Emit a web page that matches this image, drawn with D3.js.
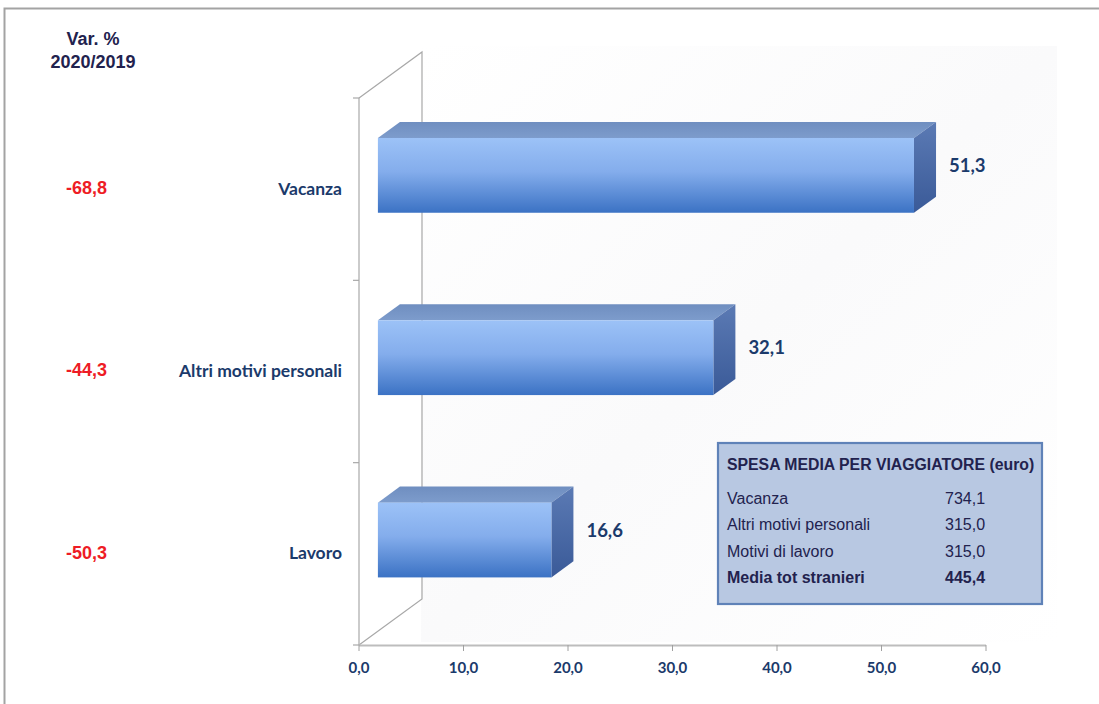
<!DOCTYPE html>
<html><head><meta charset="utf-8">
<script src="https://cdn.jsdelivr.net/npm/d3@7"></script>
<style>body{margin:0;background:#fff}svg{display:block}</style>
</head><body>
<script>
const categories = ["Vacanza", "Altri motivi personali", "Lavoro"];
const values = [51.3, 32.1, 16.6];
const varPct = [-68.8, -44.3, -50.3];
const xTicks = [0, 10, 20, 30, 40, 50, 60];
const tableTitle = "SPESA MEDIA PER VIAGGIATORE (euro)";
const tableLabels = ["Vacanza", "Altri motivi personali", "Motivi di lavoro", "Media tot stranieri"];
const tableValues = [734.1, 315.0, 315.0, 445.4];

const W = 1099, H = 704;
const loc = d3.formatLocale({decimal: ",", thousands: ".", grouping: [3], currency: ["", "€"], minus: "-"});
const f1 = loc.format(".1f");

const svg = d3.select("body").append("svg").attr("width", W).attr("height", H);
const defs = svg.append("defs");

function lg(id, stops, x2, y2) {
  const g = defs.append("linearGradient").attr("id", id)
    .attr("x1", 0).attr("y1", 0).attr("x2", x2).attr("y2", y2);
  stops.forEach(s => g.append("stop").attr("offset", s[0]).attr("stop-color", s[1]));
}
lg("gFront", [["0%", "#9cc2f7"], ["45%", "#84adec"], ["100%", "#3b72c4"]], 0, 1);
lg("gTop", [["0%", "#6f8ec0"], ["100%", "#7d9ccc"]], 0, 1);
lg("gSide", [["0%", "#5b7ab4"], ["100%", "#3a5a98"]], 0, 1);
lg("gWall", [["0%", "#ffffff"], ["50%", "#fafafb"], ["100%", "#ffffff"]], 1, 1);

// outer frame
svg.append("rect").attr("x", 4.5).attr("y", 8.5).attr("width", 1200).attr("height", 800)
  .attr("fill", "#fff").attr("stroke", "#a3a3a3").attr("stroke-width", 2);

const x = d3.scaleLinear().domain([0, 60]).range([359, 986]);
const y = d3.scaleBand().domain(categories).range([98, 645]).paddingInner(0.59).paddingOuter(0.295);
const DX = 63, DY = -46;   // full depth of the 3D box
const fa = 0.30, fb = 0.65; // bar depth fractions

// plot background (back wall area)
svg.append("rect").attr("x", 421).attr("y", 46).attr("width", 636).attr("height", 596)
  .attr("fill", "url(#gWall)");

// walls
const wall = svg.append("g").attr("fill", "none").attr("stroke", "#a8a8a8").attr("stroke-width", 1.2);
wall.append("path").attr("d", d3.line()([
  [x(0), 98], [x(0) + DX, 98 + DY], [x(0) + DX, 645 + DY], [x(0), 645]
]));
wall.append("line").attr("x1", x(0)).attr("x2", x(0)).attr("y1", 98).attr("y2", 645);
const yEdges = [98].concat(categories.map((c, i) => 98 + (i + 1) * y.step()));
wall.selectAll("line.yt").data(yEdges).join("line").attr("class", "yt")
  .attr("x1", x(0) - 6).attr("x2", x(0)).attr("y1", d => d).attr("y2", d => d);

// x axis
const axisG = svg.append("g").attr("transform", "translate(0,645)");
axisG.append("line").attr("x1", x(0)).attr("x2", x(60)).attr("y1", 0.5).attr("y2", 0.5)
  .attr("stroke", "#bdbdbd").attr("stroke-width", 2.2);
axisG.selectAll("line.xt").data(xTicks).join("line").attr("class", "xt")
  .attr("x1", d => x(d)).attr("x2", d => x(d)).attr("y1", 0).attr("y2", 6)
  .attr("stroke", "#a0a0a0").attr("stroke-width", 1);
axisG.selectAll("text").data(xTicks).join("text")
  .attr("x", d => x(d)).attr("y", 28).attr("text-anchor", "middle")
  .attr("font-family", "Lato").attr("font-weight", "bold").attr("font-size", 15)
  .attr("fill", "#1b3a6b").text(d => f1(d));

// bars
const ox = fa * DX, oy = fa * DY;
const ddx = (fb - fa) * DX, ddy = (fb - fa) * DY;
const bars = svg.append("g");
categories.forEach((c, i) => {
  const x0 = x(0) + ox, x1 = x(values[i]) + ox;
  const y0 = y(c) + oy, y1 = y0 + y.bandwidth();
  const g = bars.append("g");
  g.append("path").attr("d", d3.line()([[x0, y0], [x0 + ddx, y0 + ddy], [x1 + ddx, y0 + ddy], [x1, y0]]) + "Z")
    .attr("fill", "url(#gTop)");
  g.append("path").attr("d", d3.line()([[x1, y0], [x1 + ddx, y0 + ddy], [x1 + ddx, y1 + ddy], [x1, y1]]) + "Z")
    .attr("fill", "url(#gSide)");
  g.append("rect").attr("x", x0).attr("y", y0).attr("width", x1 - x0).attr("height", y1 - y0)
    .attr("fill", "url(#gFront)");
  g.append("text").attr("x", x1 + ddx + 13).attr("y", (y0 + y1) / 2 + ddy / 2)
    .attr("dominant-baseline", "middle")
    .attr("font-family", "Lato").attr("font-weight", "bold").attr("font-size", 18.5)
    .attr("fill", "#1b3a6b").text(f1(values[i]));
});

// category labels
svg.append("g").selectAll("text").data(categories).join("text")
  .attr("x", 342).attr("y", d => y(d) + y.bandwidth() / 2 + 1)
  .attr("dominant-baseline", "middle").attr("text-anchor", "end")
  .attr("font-family", "Lato").attr("font-weight", "bold").attr("font-size", 17.5)
  .attr("fill", "#1b3a6b").text(d => d);

// var % header and values
const hdr = svg.append("text").attr("text-anchor", "middle")
  .attr("font-family", "Liberation Sans, Arial").attr("font-weight", "bold").attr("font-size", 18)
  .attr("fill", "#22224e");
hdr.append("tspan").attr("x", 93).attr("y", 45).text("Var. %");
hdr.append("tspan").attr("x", 93).attr("y", 68).text("2020/2019");

svg.append("g").selectAll("text").data(categories).join("text")
  .attr("x", 107).attr("y", d => y(d) + y.bandwidth() / 2)
  .attr("dominant-baseline", "middle").attr("text-anchor", "end")
  .attr("font-family", "Liberation Sans, Arial").attr("font-weight", "bold").attr("font-size", 18)
  .attr("fill", "#ee1c25").text((d, i) => f1(varPct[i]));

// table box
const tb = svg.append("g");
tb.append("rect").attr("x", 718).attr("y", 443).attr("width", 324).attr("height", 161)
  .attr("fill", "#b8c8e2").attr("stroke", "#5f82b8").attr("stroke-width", 2.2);
tb.append("text").attr("x", 727).attr("y", 470)
  .attr("font-family", "Liberation Sans, Arial").attr("font-weight", "bold").attr("font-size", 15.8)
  .attr("fill", "#22224e").text(tableTitle);
tableLabels.forEach((l, i) => {
  const bold = i === tableLabels.length - 1;
  const yy = 504 + i * 26.3;
  tb.append("text").attr("x", 727).attr("y", yy)
    .attr("font-family", "Liberation Sans, Arial").attr("font-weight", bold ? "bold" : "normal")
    .attr("font-size", 16).attr("fill", "#22224e").text(l);
  tb.append("text").attr("x", 945).attr("y", yy)
    .attr("font-family", "Liberation Sans, Arial").attr("font-weight", bold ? "bold" : "normal")
    .attr("font-size", 16).attr("fill", "#22224e").text(f1(tableValues[i]));
});
</script>
</body></html>
